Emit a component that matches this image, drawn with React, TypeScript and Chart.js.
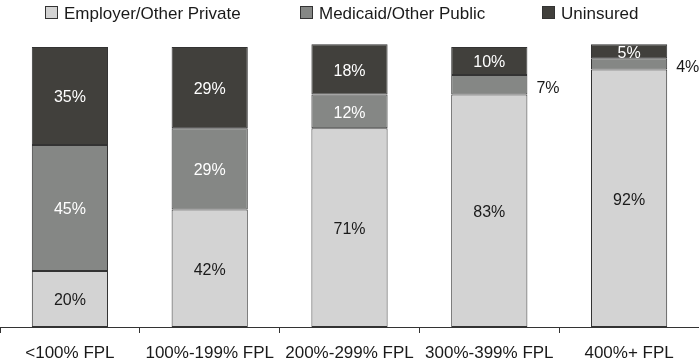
import React, { useEffect, useRef } from "react";
import { Chart, registerables } from "chart.js";

Chart.register(...registerables);

const categories = ["<100% FPL", "100%-199% FPL", "200%-299% FPL", "300%-399% FPL", "400%+ FPL"];
const employerPrivate = [20, 42, 71, 83, 92];
const medicaidPublic = [45, 29, 12, 7, 4];
const uninsured = [35, 29, 18, 10, 5];
const seriesNames = ["Employer/Other Private", "Medicaid/Other Public", "Uninsured"];

const FONT = "'Liberation Sans', Arial, Helvetica, sans-serif";
const COLORS = ["#d3d3d3", "#858785", "#41403c"];
const LABEL_COLORS = ["#1a1a1a", "#ffffff", "#ffffff"];

const dataLabelPlugin = {
  id: "dataLabels",
  afterDatasetsDraw(chart: any) {
    const ctx = chart.ctx;
    ctx.save();
    ctx.font = `16px ${FONT}`;
    ctx.textBaseline = "middle";
    chart.data.datasets.forEach((ds: any, di: number) => {
      const meta = chart.getDatasetMeta(di);
      meta.data.forEach((el: any, i: number) => {
        const v = ds.data[i];
        const props = el.getProps(["x", "y", "base", "width"], true);
        const cy = (props.y + props.base) / 2;
        const outside = di === 1 && v < 10;
        if (outside) {
          ctx.fillStyle = "#1a1a1a";
          ctx.textAlign = "left";
          ctx.fillText(`${v}%`, props.x + props.width / 2 + 9, cy + 4);
        } else {
          ctx.fillStyle = LABEL_COLORS[di];
          ctx.textAlign = "center";
          ctx.fillText(`${v}%`, props.x, cy + 2);
        }
      });
    });
    ctx.restore();
  },
};

const legendPlugin = {
  id: "customLegend",
  afterDraw(chart: any) {
    const ctx = chart.ctx;
    const xs = [45, 300, 542];
    const y = 13;
    ctx.save();
    ctx.font = `17px ${FONT}`;
    ctx.textBaseline = "middle";
    ctx.textAlign = "left";
    seriesNames.forEach((name, i) => {
      ctx.fillStyle = COLORS[i];
      ctx.fillRect(xs[i] + 0.5, y - 6.5, 12, 12);
      ctx.strokeStyle = "#333";
      ctx.lineWidth = 1;
      ctx.strokeRect(xs[i] + 0.5, y - 6.5, 12, 12);
      ctx.fillStyle = "#1a1a1a";
      ctx.fillText(name, xs[i] + 19, y + 1);
    });
    ctx.restore();
  },
};

export default function App() {
  const ref = useRef<HTMLCanvasElement>(null);
  useEffect(() => {
    document.body.style.margin = "0";
    const series = [employerPrivate, medicaidPublic, uninsured];
    const chart = new Chart(ref.current!, {
      type: "bar",
      data: {
        labels: categories,
        datasets: series.map((d, i) => ({
          label: seriesNames[i],
          data: d,
          backgroundColor: COLORS[i],
          borderColor: "#333333",
          borderWidth: 1,
          borderSkipped: false,
          barPercentage: 0.545,
          categoryPercentage: 1,
          clip: false as any,
        })),
      },
      options: {
        animation: false,
        responsive: false,
        maintainAspectRatio: false,
        layout: { padding: { top: 47, left: 0, right: 0, bottom: 0 } },
        plugins: { legend: { display: false }, tooltip: { enabled: false } },
        scales: {
          x: {
            stacked: true,
            offset: true,
            grid: {
              offset: true,
              drawOnChartArea: false,
              drawTicks: true,
              tickLength: 6,
              color: "#333333",
            },
            border: { display: true, color: "#333333", width: 1 },
            ticks: {
              color: "#1a1a1a",
              font: { family: FONT, size: 17 },
              padding: 10,
              maxRotation: 0,
              autoSkip: false,
            },
            afterFit: (scale: any) => {
              scale.height = 37;
            },
          },
          y: {
            stacked: true,
            display: false,
            min: 0,
            max: 100,
          },
        },
      },
      plugins: [dataLabelPlugin, legendPlugin],
    });
    return () => chart.destroy();
  }, []);
  return (
    <div style={{ width: 699, height: 364 }}>
      <canvas ref={ref} width={699} height={364} style={{ display: "block" }} />
    </div>
  );
}
